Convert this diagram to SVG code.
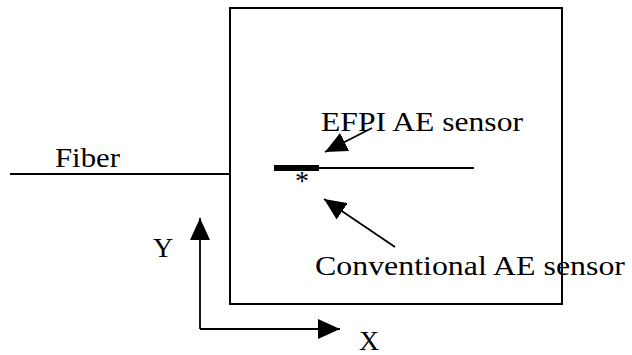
<svg xmlns="http://www.w3.org/2000/svg" width="632" height="355" viewBox="0 0 632 355">
<style>
.ln{stroke:#000;stroke-width:1.8;fill:none}
</style>
<defs>
<marker id="ah" viewBox="0 0 22 20" refX="22" refY="10" markerWidth="22" markerHeight="20" markerUnits="userSpaceOnUse" orient="auto">
<path d="M0,0 L22,10 L0,20 Z" fill="#000"/>
</marker>
</defs>
<rect width="632" height="355" fill="#fff"/>
<g id="specimen">
<rect x="230" y="8" width="332" height="296" fill="none" stroke="#000" stroke-width="2"/>
</g>
<g font-family="Liberation Serif, Times New Roman, DejaVu Serif, serif" font-size="28" fill="#000">
<g id="fiber">
<line class="ln" x1="10" y1="174" x2="230" y2="174"/>
<text x="55" y="167" textLength="65" lengthAdjust="spacingAndGlyphs">Fiber</text>
</g>
<g id="sensor">
<line class="ln" x1="319" y1="168" x2="474" y2="168"/>
<line x1="274" y1="168" x2="319" y2="168" stroke="#000" stroke-width="6"/>
<text x="302" y="190" text-anchor="middle">*</text>
</g>
<g id="efpi-label">
<text x="321" y="131" textLength="202" lengthAdjust="spacingAndGlyphs">EFPI AE sensor</text>
</g>
<g id="conventional-label">
<text x="315" y="275" textLength="310" lengthAdjust="spacingAndGlyphs">Conventional AE sensor</text>
</g>
<g id="axis-labels">
<text x="153" y="257">Y</text>
<text x="359" y="350">X</text>
</g>
</g>
<g id="connectors">
<line class="ln" x1="372" y1="128" x2="325" y2="152" marker-end="url(#ah)"/>
<line class="ln" x1="395" y1="247" x2="324" y2="199" marker-end="url(#ah)"/>
<line class="ln" x1="200" y1="329" x2="200" y2="218" marker-end="url(#ah)"/>
<line class="ln" x1="200" y1="329" x2="340" y2="329" marker-end="url(#ah)"/>
</g>
</svg>
